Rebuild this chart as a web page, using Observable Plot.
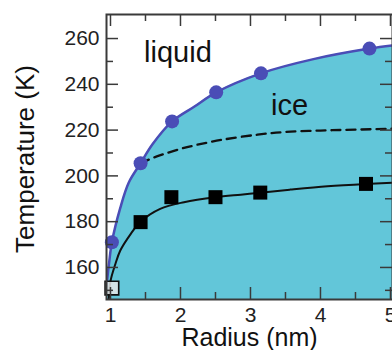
<!DOCTYPE html>
<html><head><meta charset="utf-8">
<script src="https://cdn.jsdelivr.net/npm/d3@7"></script>
<script src="https://cdn.jsdelivr.net/npm/@observablehq/plot@0.6"></script>
<style>body{margin:0;background:#fff;}</style>
</head><body><div id="chart"></div>
<script>
// Tick values
const radiusTicks = [1, 2, 3, 4, 5];
const radiusMinor = [1.5, 2.5, 3.5, 4.5];
const tempTicks = [160, 180, 200, 220, 240, 260];
const tempMinor = [150, 170, 190, 210, 230, 250];

// Measured points: liquid/ice boundary (circles)
const liquidR = [1.02, 1.43, 1.88, 2.51, 3.15, 4.70];
const liquidT = [171, 205.5, 223.8, 236.5, 244.8, 255.6];
// Measured points (filled squares)
const iceR = [1.43, 1.87, 2.50, 3.14, 4.65];
const iceT = [179.8, 190.7, 190.7, 192.7, 196.5];
// Open square
const openR = [1.02];
const openT = [151];

// Curves
const blueCurveR = [0.943, 0.98, 1.02, 1.14, 1.26, 1.43, 1.6, 1.88, 2.2, 2.51, 3.15, 3.9, 4.7, 5.03];
const blueCurveT = [152, 162, 171, 186, 197, 205.5, 213.8, 223.8, 230.3, 236.5, 244.8, 251, 255.6, 257];
const dashR = [1.43, 1.6, 1.76, 2.0, 2.24, 2.6, 3.1, 3.5, 4.0, 4.5, 5.03];
const dashT = [205.5, 207.8, 209.5, 211.8, 213.6, 215.8, 218, 219.2, 219.8, 220.2, 220.6];
const blackR = [0.975, 1.0, 1.07, 1.14, 1.29, 1.43, 1.71, 2.05, 2.5, 2.86, 3.14, 3.57, 4.1, 4.65, 5.03];
const blackT = [146, 154, 161.5, 167.4, 174.7, 180, 185.6, 188.5, 190.7, 191.8, 192.6, 194, 195.5, 196.5, 197];

// Region labels
const phaseNames = ["liquid", "ice"];
const phaseR = [1.964, 3.557];
const phaseT = [253.9, 230.5];

const zip = (R, T) => R.map((r, i) => ({r, T: T[i]}));
const blue = zip(blueCurveR, blueCurveT);
const dashed = zip(dashR, dashT);
const black = zip(blackR, blackT);
const liquid = zip(liquidR, liquidT);
const ice = zip(iceR, iceT);
const open = zip(openR, openT);
const phases = phaseNames.map((name, i) => ({name, r: phaseR[i], T: phaseT[i]}));

const CYAN = "#62c6d9";
const BLUE = "#4a4db6";
const AX = "#3a3a3a";
const W = 392, H = 350, ML = 106, MR = 0, MT = 14, MB = 51;
const FW = W - ML - MR, FH = H - MT - MB;
const MAJ = 12, MIN = 7;

const chart = Plot.plot({
  width: W, height: H,
  marginLeft: ML, marginRight: MR, marginTop: MT, marginBottom: MB,
  style: {fontFamily: "'Liberation Sans', Arial, Helvetica, sans-serif", background: "white", color: "#222"},
  x: {domain: [0.943, 5.029]},
  y: {domain: [146, 270.5]},
  marks: [
    Plot.areaY(blue, {x: "r", y: "T", fill: CYAN, curve: "catmull-rom", clip: true}),
    Plot.line(dashed, {x: "r", y: "T", stroke: "#111", strokeWidth: 2.3, strokeDasharray: "9,6", curve: "catmull-rom", clip: true}),
    Plot.line(black, {x: "r", y: "T", stroke: "#111", strokeWidth: 2, curve: "catmull-rom", clip: true}),
    Plot.line(blue, {x: "r", y: "T", stroke: BLUE, strokeWidth: 2.5, curve: "catmull-rom", clip: true}),
    Plot.dot(liquid, {x: "r", y: "T", r: 7, fill: BLUE}),
    Plot.dot(ice, {x: "r", y: "T", symbol: "square", r: 7.9, fill: "#000"}),
    Plot.dot(open, {x: "r", y: "T", symbol: "square", r: 7.7, fill: "#e8e8e8", fillOpacity: 0.85, stroke: "#111", strokeWidth: 1.6}),
    // inward ticks on all four sides
    Plot.tickX(radiusTicks, {insetTop: FH - MAJ, stroke: AX, strokeWidth: 1.5}),
    Plot.tickX(radiusMinor, {insetTop: FH - MIN, stroke: AX, strokeWidth: 1.5}),
    Plot.tickX(radiusTicks, {insetBottom: FH - MAJ, stroke: AX, strokeWidth: 1.5}),
    Plot.tickX(radiusMinor, {insetBottom: FH - MIN, stroke: AX, strokeWidth: 1.5}),
    Plot.tickY(tempTicks, {insetRight: FW - MAJ, stroke: AX, strokeWidth: 1.5}),
    Plot.tickY(tempMinor, {insetRight: FW - MIN, stroke: AX, strokeWidth: 1.5}),
    Plot.tickY(tempTicks, {insetLeft: FW - MAJ, stroke: AX, strokeWidth: 1.5}),
    Plot.tickY(tempMinor, {insetLeft: FW - MIN, stroke: AX, strokeWidth: 1.5}),
    Plot.frame({stroke: AX, strokeWidth: 2}),
    Plot.axisX(radiusTicks, {tickSize: 0, tickPadding: 8, fontSize: 21, label: null}),
    Plot.axisY(tempTicks, {tickSize: 0, tickPadding: 7, fontSize: 21, label: null}),
    Plot.text(phases, {x: "r", y: "T", text: "name", fontSize: 29, fill: "#111"}),
    Plot.text(["Radius (nm)"], {frameAnchor: "bottom", dy: 38, fontSize: 25, textAnchor: "middle", lineAnchor: "middle", fill: "#111"}),
    Plot.text(["Temperature (K)"], {frameAnchor: "left", dx: -81, dy: 2, rotate: -90, fontSize: 26, textAnchor: "middle", lineAnchor: "middle", fill: "#111"})
  ]
});
document.getElementById("chart").appendChild(chart);
</script>
</body></html>
